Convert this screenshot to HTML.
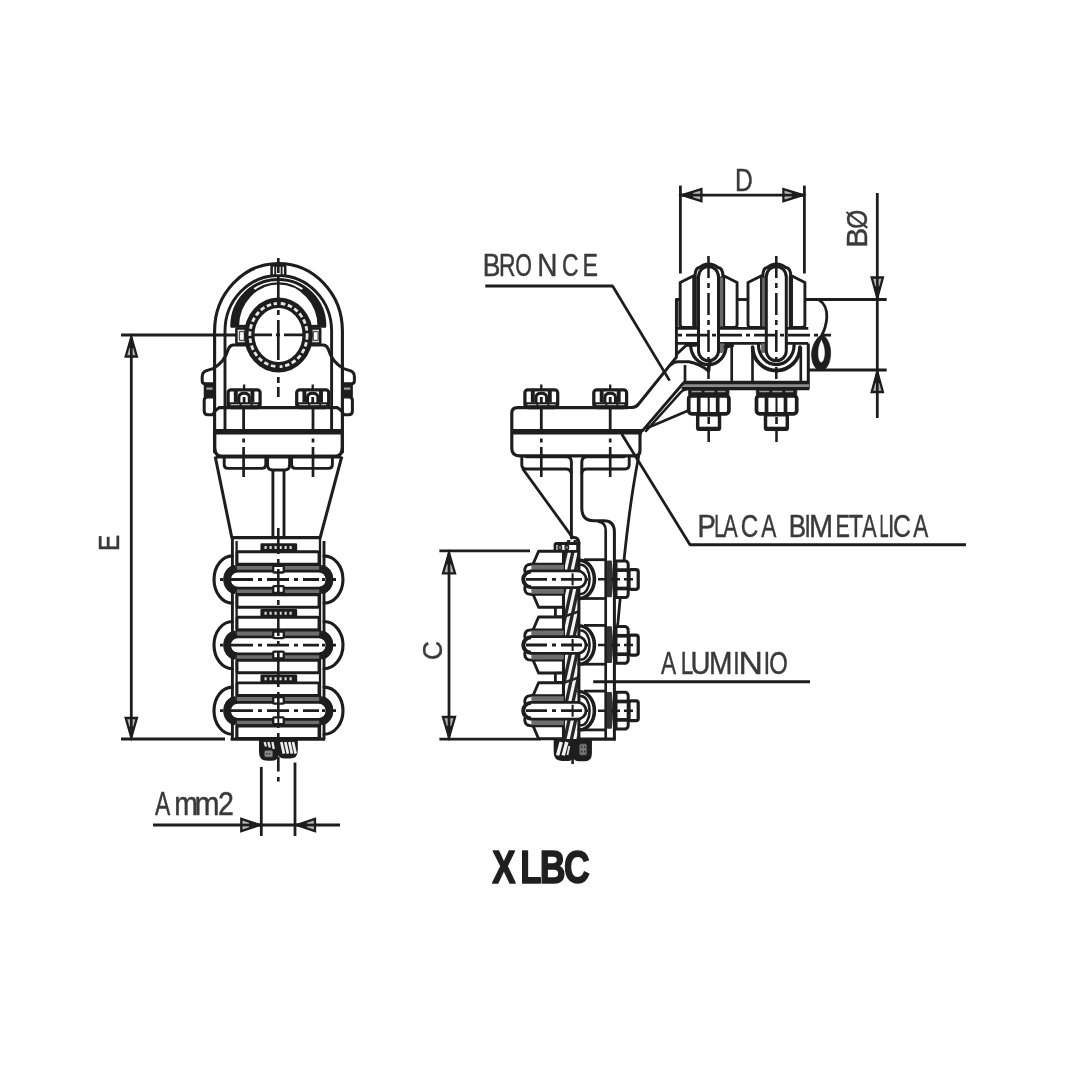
<!DOCTYPE html>
<html><head><meta charset="utf-8"><title>XLBC</title>
<style>
html,body{margin:0;padding:0;background:#fff;}
body{width:1080px;height:1080px;overflow:hidden;font-family:"Liberation Sans",sans-serif;}
svg{display:block;filter:blur(0.75px);}
svg text{font-family:"Liberation Sans",sans-serif;}
</style></head><body>
<svg width="1080" height="1080" viewBox="0 0 1080 1080">
<rect x="0" y="0" width="1080" height="1080" fill="#fff"/>
<line x1="121" y1="335" x2="247" y2="335" stroke="#1d1d1d" stroke-width="2.78" stroke-linecap="butt"/>
<line x1="131.3" y1="340" x2="131.3" y2="735" stroke="#1d1d1d" stroke-width="2.78" stroke-linecap="butt"/>
<path d="M131.3,337.1 L136.9,356.5 L125.7,356.5 Z" fill="#b4b4b4" stroke="#1d1d1d" stroke-width="2.32" stroke-linejoin="miter" stroke-linecap="round"/>
<line x1="131.3" y1="356.5" x2="131.3" y2="337.1" stroke="#1d1d1d" stroke-width="2.67" stroke-linecap="butt"/>
<path d="M131.3,337.1 L134.1,347.6 L128.5,347.6 Z" fill="#1d1d1d" stroke="#1d1d1d" stroke-width="0.93" stroke-linejoin="miter" stroke-linecap="round"/>
<path d="M131.3,737.4 L125.7,718 L136.9,718 Z" fill="#b4b4b4" stroke="#1d1d1d" stroke-width="2.32" stroke-linejoin="miter" stroke-linecap="round"/>
<line x1="131.3" y1="718" x2="131.3" y2="737.4" stroke="#1d1d1d" stroke-width="2.67" stroke-linecap="butt"/>
<path d="M131.3,737.4 L128.5,726.9 L134.1,726.9 Z" fill="#1d1d1d" stroke="#1d1d1d" stroke-width="0.93" stroke-linejoin="miter" stroke-linecap="round"/>
<line x1="121" y1="739" x2="225" y2="739" stroke="#1d1d1d" stroke-width="2.78" stroke-linecap="butt"/>
<path d="M214.6,452 L214.6,331 A63.9,67.5 0 0 1 342.4,331 L342.4,452" fill="none" stroke="#1d1d1d" stroke-width="3.13" stroke-linejoin="round" stroke-linecap="round"/>
<path d="M225,431 L225,331 A53.3,55.5 0 0 1 331.6,331 L331.6,431" fill="none" stroke="#1d1d1d" stroke-width="2.9" stroke-linejoin="round" stroke-linecap="round"/>
<rect x="271.6" y="265.5" width="13.6" height="10" rx="0.5" fill="#fff" stroke="#1d1d1d" stroke-width="2.55"/>
<line x1="275.2" y1="266" x2="275.2" y2="275.5" stroke="#1d1d1d" stroke-width="1.86" stroke-linecap="butt"/>
<line x1="281.6" y1="266" x2="281.6" y2="275.5" stroke="#1d1d1d" stroke-width="1.86" stroke-linecap="butt"/>
<path d="M231.71,325.19 A46.6,46.6 0 0 1 252.24,287.37 L255.71,290.68 A40.4,42.6 0 0 0 237.91,325.26 Z" fill="#1d1d1d" stroke="#1d1d1d" stroke-width="0.7" stroke-linejoin="round" stroke-linecap="round"/>
<path d="M324.89,325.19 A46.6,46.6 0 0 0 304.36,287.37 L300.89,290.68 A40.4,42.6 0 0 1 318.69,325.26 Z" fill="#1d1d1d" stroke="#1d1d1d" stroke-width="0.7" stroke-linejoin="round" stroke-linecap="round"/>
<path d="M231.7,326 A46.6,46.6 0 0 1 324.9,326" fill="none" stroke="#1d1d1d" stroke-width="2.9" stroke-linejoin="round" stroke-linecap="round"/>
<path d="M237.9,326 A40.4,42.6 0 0 1 318.7,326" fill="none" stroke="#1d1d1d" stroke-width="2.44" stroke-linejoin="round" stroke-linecap="round"/>
<line x1="230.8" y1="326.3" x2="246.5" y2="326.3" stroke="#1d1d1d" stroke-width="2.9" stroke-linecap="butt"/>
<line x1="310.5" y1="326.3" x2="325.8" y2="326.3" stroke="#1d1d1d" stroke-width="2.9" stroke-linecap="butt"/>
<rect x="236.4" y="328.5" width="10" height="15" rx="0.5" fill="#fff" stroke="#1d1d1d" stroke-width="2.55"/>
<rect x="310.2" y="328.5" width="10" height="15" rx="0.5" fill="#fff" stroke="#1d1d1d" stroke-width="2.55"/>
<rect x="239.4" y="331.5" width="5" height="9" rx="0.5" fill="none" stroke="#555" stroke-width="1.39"/>
<rect x="313.2" y="331.5" width="5" height="9" rx="0.5" fill="none" stroke="#555" stroke-width="1.39"/>
<path d="M246,345 L233,345 Q229.5,345.5 228,350 Q224.5,362 213,368.6 Q208.5,369.8 205.8,370.8 Q202.2,372.4 202.2,376.8 L202.2,381 Q202.2,383.8 205.6,383.8 L214,383.8" fill="none" stroke="#1d1d1d" stroke-width="3.02" stroke-linejoin="round" stroke-linecap="round"/>
<path d="M310.6,345 L323.6,345 Q327.1,345.5 328.6,350 Q332.1,362 343.6,368.6 Q348.1,369.8 350.8,370.8 Q354.4,372.4 354.4,376.8 L354.4,381 Q354.4,383.8 351,383.8 L342.6,383.8" fill="none" stroke="#1d1d1d" stroke-width="3.02" stroke-linejoin="round" stroke-linecap="round"/>
<rect x="204.6" y="384" width="9.6" height="12.6" rx="0.5" fill="#1d1d1d" stroke="#1d1d1d" stroke-width="1.74"/>
<rect x="342.4" y="384" width="9.6" height="12.6" rx="0.5" fill="#1d1d1d" stroke="#1d1d1d" stroke-width="1.74"/>
<line x1="206.4" y1="388.6" x2="212.6" y2="388.6" stroke="#9a9a9a" stroke-width="2.32" stroke-linecap="butt"/>
<line x1="344" y1="388.6" x2="350.4" y2="388.6" stroke="#9a9a9a" stroke-width="2.32" stroke-linecap="butt"/>
<path d="M214,397 L207.5,397 Q204.2,397 204.2,400.5 L204.2,411 Q204.2,414.8 208,414.8 L213,414.8 Q214.5,410 219.5,407.6" fill="none" stroke="#1d1d1d" stroke-width="3.02" stroke-linejoin="round" stroke-linecap="round"/>
<path d="M342.6,397 L349.1,397 Q352.4,397 352.4,400.5 L352.4,411 Q352.4,414.8 348.6,414.8 L343.6,414.8 Q342.1,410 337.1,407.6" fill="none" stroke="#1d1d1d" stroke-width="3.02" stroke-linejoin="round" stroke-linecap="round"/>
<ellipse cx="278.5" cy="335" rx="29.2" ry="32.2" fill="#fff" stroke="#1d1d1d" stroke-width="10.44"/>
<ellipse cx="278.5" cy="335" rx="28.6" ry="31.6" fill="none" stroke="#e6e6e6" stroke-width="2.78" stroke-dasharray="4.6 2.6"/>
<line x1="252" y1="334.9" x2="305" y2="334.9" stroke="#1d1d1d" stroke-width="2.67" stroke-linecap="butt" stroke-dasharray="20 4 4 4"/>
<line x1="278.3" y1="258" x2="278.3" y2="372" stroke="#1d1d1d" stroke-width="2.67" stroke-linecap="butt" stroke-dasharray="15 4 28 5 5 5 40 5 5 5"/>
<line x1="278.3" y1="377" x2="278.3" y2="397" stroke="#1d1d1d" stroke-width="2.67" stroke-linecap="butt" stroke-dasharray="6 4 12"/>
<path d="M219.5,407.6 L337,407.6" fill="none" stroke="#1d1d1d" stroke-width="3.25" stroke-linejoin="round" stroke-linecap="round"/>
<path d="M214.6,431 L214.6,447 Q214.6,456.4 222,456.4 L335,456.4 Q342.4,456.4 342.4,447 L342.4,431" fill="none" stroke="#1d1d1d" stroke-width="3.25" stroke-linejoin="round" stroke-linecap="round"/>
<line x1="215" y1="431.8" x2="342" y2="431.8" stroke="#1d1d1d" stroke-width="5.57" stroke-linecap="butt"/>
<line x1="216" y1="456.6" x2="341" y2="456.6" stroke="#1d1d1d" stroke-width="3.71" stroke-linecap="butt"/>
<rect x="228.1" y="389.8" width="32" height="17.7" rx="3" fill="#fff" stroke="#1d1d1d" stroke-width="3.25"/>
<line x1="235.8" y1="390" x2="235.8" y2="402.5" stroke="#1d1d1d" stroke-width="3.94" stroke-linecap="butt"/>
<line x1="252.4" y1="390" x2="252.4" y2="402.5" stroke="#1d1d1d" stroke-width="3.94" stroke-linecap="butt"/>
<path d="M238.9,402.5 L238.9,397.5 Q238.9,393.2 244.1,393.2 Q249.3,393.2 249.3,397.5 L249.3,402.5" fill="none" stroke="#1d1d1d" stroke-width="3.02" stroke-linejoin="round" stroke-linecap="round"/>
<line x1="244.1" y1="397" x2="244.1" y2="403" stroke="#1d1d1d" stroke-width="2.78" stroke-linecap="butt"/>
<rect x="228.6" y="402.6" width="31" height="4.6" rx="0" fill="#1d1d1d" stroke="#1d1d1d" stroke-width="0.58"/>
<line x1="230.6" y1="404.6" x2="257.6" y2="404.6" stroke="#aaa" stroke-width="1.28" stroke-linecap="butt" stroke-dasharray="9 2"/>
<line x1="244.1" y1="384.5" x2="244.1" y2="390" stroke="#1d1d1d" stroke-width="2.32" stroke-linecap="butt"/>
<rect x="296.7" y="389.8" width="32" height="17.7" rx="3" fill="#fff" stroke="#1d1d1d" stroke-width="3.25"/>
<line x1="304.4" y1="390" x2="304.4" y2="402.5" stroke="#1d1d1d" stroke-width="3.94" stroke-linecap="butt"/>
<line x1="321" y1="390" x2="321" y2="402.5" stroke="#1d1d1d" stroke-width="3.94" stroke-linecap="butt"/>
<path d="M307.5,402.5 L307.5,397.5 Q307.5,393.2 312.7,393.2 Q317.9,393.2 317.9,397.5 L317.9,402.5" fill="none" stroke="#1d1d1d" stroke-width="3.02" stroke-linejoin="round" stroke-linecap="round"/>
<line x1="312.7" y1="397" x2="312.7" y2="403" stroke="#1d1d1d" stroke-width="2.78" stroke-linecap="butt"/>
<rect x="297.2" y="402.6" width="31" height="4.6" rx="0" fill="#1d1d1d" stroke="#1d1d1d" stroke-width="0.58"/>
<line x1="299.2" y1="404.6" x2="326.2" y2="404.6" stroke="#aaa" stroke-width="1.28" stroke-linecap="butt" stroke-dasharray="9 2"/>
<line x1="312.7" y1="384.5" x2="312.7" y2="390" stroke="#1d1d1d" stroke-width="2.32" stroke-linecap="butt"/>
<line x1="243.6" y1="408" x2="243.6" y2="431" stroke="#1d1d1d" stroke-width="2.78" stroke-linecap="butt"/>
<line x1="243.6" y1="438.5" x2="243.6" y2="478" stroke="#1d1d1d" stroke-width="2.67" stroke-linecap="butt" stroke-dasharray="4 4.5 30"/>
<line x1="313" y1="408" x2="313" y2="431" stroke="#1d1d1d" stroke-width="2.78" stroke-linecap="butt"/>
<line x1="313" y1="438.5" x2="313" y2="478" stroke="#1d1d1d" stroke-width="2.67" stroke-linecap="butt" stroke-dasharray="4 4.5 30"/>
<path d="M224.2,457 L224.2,464.5 Q224.2,468.4 228,468.4 L262,468.4 Q265.8,468.4 265.8,464.5 L265.8,457" fill="none" stroke="#1d1d1d" stroke-width="2.9" stroke-linejoin="round" stroke-linecap="round"/>
<path d="M291.6,457 L291.6,464.5 Q291.6,468.4 295.4,468.4 L328.6,468.4 Q332.4,468.4 332.4,464.5 L332.4,457" fill="none" stroke="#1d1d1d" stroke-width="2.9" stroke-linejoin="round" stroke-linecap="round"/>
<path d="M267.6,457 L267.6,465 Q267.6,470 272.6,470 L284.6,470 Q289.6,470 289.6,465 L289.6,457" fill="none" stroke="#1d1d1d" stroke-width="2.9" stroke-linejoin="round" stroke-linecap="round"/>
<line x1="272.9" y1="470" x2="272.9" y2="537" stroke="#1d1d1d" stroke-width="2.9" stroke-linecap="butt"/>
<line x1="284" y1="470" x2="284" y2="537" stroke="#1d1d1d" stroke-width="2.9" stroke-linecap="butt"/>
<line x1="215.2" y1="456.5" x2="231.8" y2="537.5" stroke="#1d1d1d" stroke-width="3.02" stroke-linecap="butt"/>
<line x1="341.8" y1="456.5" x2="320.2" y2="537.5" stroke="#1d1d1d" stroke-width="3.02" stroke-linecap="butt"/>
<line x1="230.6" y1="537.6" x2="321.4" y2="537.6" stroke="#1d1d1d" stroke-width="3.25" stroke-linecap="butt"/>
<line x1="232.4" y1="537.6" x2="232.4" y2="739" stroke="#1d1d1d" stroke-width="2.9" stroke-linecap="butt"/>
<line x1="236.6" y1="541" x2="236.6" y2="739" stroke="#1d1d1d" stroke-width="2.32" stroke-linecap="butt"/>
<line x1="320" y1="537.6" x2="320" y2="739" stroke="#1d1d1d" stroke-width="2.32" stroke-linecap="butt"/>
<line x1="324" y1="541" x2="324" y2="739" stroke="#1d1d1d" stroke-width="2.9" stroke-linecap="butt"/>
<line x1="230.6" y1="739" x2="325.2" y2="739" stroke="#1d1d1d" stroke-width="3.25" stroke-linecap="butt"/>
<path d="M232.4,555.9 A18.4,23.6 0 0 0 232.4,603.1" fill="none" stroke="#1d1d1d" stroke-width="3.13" stroke-linejoin="round" stroke-linecap="round"/>
<path d="M324,555.9 A19,23.6 0 0 1 324,603.1" fill="none" stroke="#1d1d1d" stroke-width="3.13" stroke-linejoin="round" stroke-linecap="round"/>
<rect x="261" y="543.9" width="35.6" height="7.4" rx="0.8" fill="#1d1d1d" stroke="#1d1d1d" stroke-width="1.16"/>
<line x1="264.5" y1="547.6" x2="294" y2="547.6" stroke="#d8d8d8" stroke-width="3.02" stroke-linecap="butt" stroke-dasharray="2.2 2.8"/>
<rect x="237" y="551.7" width="82" height="12.6" rx="1.2" fill="#fff" stroke="#1d1d1d" stroke-width="2.9"/>
<rect x="237" y="565.1" width="82" height="5" rx="0" fill="#6e6e6e" stroke="#6e6e6e" stroke-width="0.46"/>
<rect x="237" y="588.9" width="82" height="5" rx="0" fill="#6e6e6e" stroke="#6e6e6e" stroke-width="0.46"/>
<line x1="236" y1="594.5" x2="320.6" y2="594.5" stroke="#1d1d1d" stroke-width="2.78" stroke-linecap="butt"/>
<line x1="236" y1="564.5" x2="320.6" y2="564.5" stroke="#1d1d1d" stroke-width="2.78" stroke-linecap="butt"/>
<rect x="237" y="594.8" width="82" height="12.4" rx="1.2" fill="#fff" stroke="#1d1d1d" stroke-width="2.9"/>
<rect x="229.5" y="571.2" width="97.6" height="17" rx="8.3" fill="#fff" stroke="#1d1d1d" stroke-width="2.67"/>
<path d="M235,565.5 A11.4,14 0 0 0 235,593.5 L236.6,587.2 A6.2,7.7 0 0 1 236.6,571.8 Z" fill="#1d1d1d" stroke="#1d1d1d" stroke-width="0.93" stroke-linejoin="round" stroke-linecap="round"/>
<path d="M321.6,565.5 A11.4,14 0 0 1 321.6,593.5 L320,587.2 A6.2,7.7 0 0 0 320,571.8 Z" fill="#1d1d1d" stroke="#1d1d1d" stroke-width="0.93" stroke-linejoin="round" stroke-linecap="round"/>
<rect x="273.2" y="565.9" width="10.6" height="6.6" rx="1" fill="#fff" stroke="#1d1d1d" stroke-width="2.32"/>
<rect x="273.2" y="586.1" width="10.6" height="6.8" rx="1" fill="#fff" stroke="#1d1d1d" stroke-width="2.32"/>
<line x1="278.3" y1="586.5" x2="278.3" y2="592.5" stroke="#1d1d1d" stroke-width="1.86" stroke-linecap="butt"/>
<line x1="220" y1="579.5" x2="337" y2="579.5" stroke="#1d1d1d" stroke-width="2.78" stroke-linecap="butt" stroke-dasharray="3 8 22 5 4 5 22 5 4 5 16 3 3"/>
<path d="M232.4,621.5 A18.4,23.6 0 0 0 232.4,668.7" fill="none" stroke="#1d1d1d" stroke-width="3.13" stroke-linejoin="round" stroke-linecap="round"/>
<path d="M324,621.5 A19,23.6 0 0 1 324,668.7" fill="none" stroke="#1d1d1d" stroke-width="3.13" stroke-linejoin="round" stroke-linecap="round"/>
<rect x="261" y="609.5" width="35.6" height="7.4" rx="0.8" fill="#1d1d1d" stroke="#1d1d1d" stroke-width="1.16"/>
<line x1="264.5" y1="613.2" x2="294" y2="613.2" stroke="#d8d8d8" stroke-width="3.02" stroke-linecap="butt" stroke-dasharray="2.2 2.8"/>
<rect x="237" y="617.3" width="82" height="12.6" rx="1.2" fill="#fff" stroke="#1d1d1d" stroke-width="2.9"/>
<rect x="237" y="630.7" width="82" height="5" rx="0" fill="#6e6e6e" stroke="#6e6e6e" stroke-width="0.46"/>
<rect x="237" y="654.5" width="82" height="5" rx="0" fill="#6e6e6e" stroke="#6e6e6e" stroke-width="0.46"/>
<line x1="236" y1="660.1" x2="320.6" y2="660.1" stroke="#1d1d1d" stroke-width="2.78" stroke-linecap="butt"/>
<line x1="236" y1="630.1" x2="320.6" y2="630.1" stroke="#1d1d1d" stroke-width="2.78" stroke-linecap="butt"/>
<rect x="237" y="660.4" width="82" height="12.4" rx="1.2" fill="#fff" stroke="#1d1d1d" stroke-width="2.9"/>
<rect x="229.5" y="636.8" width="97.6" height="17" rx="8.3" fill="#fff" stroke="#1d1d1d" stroke-width="2.67"/>
<path d="M235,631.1 A11.4,14 0 0 0 235,659.1 L236.6,652.8 A6.2,7.7 0 0 1 236.6,637.4 Z" fill="#1d1d1d" stroke="#1d1d1d" stroke-width="0.93" stroke-linejoin="round" stroke-linecap="round"/>
<path d="M321.6,631.1 A11.4,14 0 0 1 321.6,659.1 L320,652.8 A6.2,7.7 0 0 0 320,637.4 Z" fill="#1d1d1d" stroke="#1d1d1d" stroke-width="0.93" stroke-linejoin="round" stroke-linecap="round"/>
<rect x="273.2" y="631.5" width="10.6" height="6.6" rx="1" fill="#fff" stroke="#1d1d1d" stroke-width="2.32"/>
<rect x="273.2" y="651.7" width="10.6" height="6.8" rx="1" fill="#fff" stroke="#1d1d1d" stroke-width="2.32"/>
<line x1="278.3" y1="652.1" x2="278.3" y2="658.1" stroke="#1d1d1d" stroke-width="1.86" stroke-linecap="butt"/>
<line x1="220" y1="645.1" x2="337" y2="645.1" stroke="#1d1d1d" stroke-width="2.78" stroke-linecap="butt" stroke-dasharray="3 8 22 5 4 5 22 5 4 5 16 3 3"/>
<path d="M232.4,687.1 A18.4,23.6 0 0 0 232.4,734.3" fill="none" stroke="#1d1d1d" stroke-width="3.13" stroke-linejoin="round" stroke-linecap="round"/>
<path d="M324,687.1 A19,23.6 0 0 1 324,734.3" fill="none" stroke="#1d1d1d" stroke-width="3.13" stroke-linejoin="round" stroke-linecap="round"/>
<rect x="261" y="675.1" width="35.6" height="7.4" rx="0.8" fill="#1d1d1d" stroke="#1d1d1d" stroke-width="1.16"/>
<line x1="264.5" y1="678.8" x2="294" y2="678.8" stroke="#d8d8d8" stroke-width="3.02" stroke-linecap="butt" stroke-dasharray="2.2 2.8"/>
<rect x="237" y="682.9" width="82" height="12.6" rx="1.2" fill="#fff" stroke="#1d1d1d" stroke-width="2.9"/>
<rect x="237" y="696.3" width="82" height="5" rx="0" fill="#6e6e6e" stroke="#6e6e6e" stroke-width="0.46"/>
<rect x="237" y="720.1" width="82" height="5" rx="0" fill="#6e6e6e" stroke="#6e6e6e" stroke-width="0.46"/>
<line x1="236" y1="725.7" x2="320.6" y2="725.7" stroke="#1d1d1d" stroke-width="2.78" stroke-linecap="butt"/>
<line x1="236" y1="695.7" x2="320.6" y2="695.7" stroke="#1d1d1d" stroke-width="2.78" stroke-linecap="butt"/>
<rect x="237" y="726" width="82" height="12.4" rx="1.2" fill="#fff" stroke="#1d1d1d" stroke-width="2.9"/>
<rect x="229.5" y="702.4" width="97.6" height="17" rx="8.3" fill="#fff" stroke="#1d1d1d" stroke-width="2.67"/>
<path d="M235,696.7 A11.4,14 0 0 0 235,724.7 L236.6,718.4 A6.2,7.7 0 0 1 236.6,703 Z" fill="#1d1d1d" stroke="#1d1d1d" stroke-width="0.93" stroke-linejoin="round" stroke-linecap="round"/>
<path d="M321.6,696.7 A11.4,14 0 0 1 321.6,724.7 L320,718.4 A6.2,7.7 0 0 0 320,703 Z" fill="#1d1d1d" stroke="#1d1d1d" stroke-width="0.93" stroke-linejoin="round" stroke-linecap="round"/>
<rect x="273.2" y="697.1" width="10.6" height="6.6" rx="1" fill="#fff" stroke="#1d1d1d" stroke-width="2.32"/>
<rect x="273.2" y="717.3" width="10.6" height="6.8" rx="1" fill="#fff" stroke="#1d1d1d" stroke-width="2.32"/>
<line x1="278.3" y1="717.7" x2="278.3" y2="723.7" stroke="#1d1d1d" stroke-width="1.86" stroke-linecap="butt"/>
<line x1="220" y1="710.7" x2="337" y2="710.7" stroke="#1d1d1d" stroke-width="2.78" stroke-linecap="butt" stroke-dasharray="3 8 22 5 4 5 22 5 4 5 16 3 3"/>
<line x1="278.3" y1="528" x2="278.3" y2="739" stroke="#1d1d1d" stroke-width="2.55" stroke-linecap="butt" stroke-dasharray="26 5 5 5"/>
<path d="M259.8,739.5 L259.8,752 Q259.8,760 267.5,760 L271.5,760 Q277.4,760 277.9,754.6 L279,754.6 Q279.8,757.8 284.5,757.8 L290,757.8 Q297,757.8 297,750.5 L297,739.5 Z" fill="#1d1d1d" stroke="#1d1d1d" stroke-width="1.62" stroke-linejoin="round" stroke-linecap="round"/>
<line x1="281.3" y1="742" x2="283.9" y2="753.6" stroke="#efefef" stroke-width="2.67" stroke-linecap="butt"/>
<line x1="285.3" y1="742" x2="287.9" y2="753.6" stroke="#efefef" stroke-width="2.67" stroke-linecap="butt"/>
<line x1="289.3" y1="742" x2="291.9" y2="753.6" stroke="#efefef" stroke-width="2.67" stroke-linecap="butt"/>
<line x1="293" y1="742" x2="295.6" y2="753.6" stroke="#efefef" stroke-width="2.67" stroke-linecap="butt"/>
<line x1="264.6" y1="742" x2="266" y2="746.5" stroke="#e6e6e6" stroke-width="2.32" stroke-linecap="butt"/>
<line x1="268.4" y1="742" x2="269.8" y2="747.5" stroke="#e6e6e6" stroke-width="2.32" stroke-linecap="butt"/>
<line x1="272.4" y1="742" x2="273.8" y2="749" stroke="#e6e6e6" stroke-width="2.32" stroke-linecap="butt"/>
<rect x="264.6" y="750.6" width="8" height="6.4" rx="1.5" fill="#8a8a8a" stroke="#555" stroke-width="0.7"/>
<line x1="266" y1="753.8" x2="271.6" y2="753.8" stroke="#333" stroke-width="1.62" stroke-linecap="butt" stroke-dasharray="1.4 1.4"/>
<line x1="278.3" y1="757" x2="278.3" y2="771.5" stroke="#1d1d1d" stroke-width="2.67" stroke-linecap="butt"/>
<line x1="278.3" y1="777" x2="278.3" y2="781.5" stroke="#1d1d1d" stroke-width="2.67" stroke-linecap="butt"/>
<line x1="261.3" y1="767" x2="261.3" y2="836" stroke="#1d1d1d" stroke-width="2.78" stroke-linecap="butt"/>
<line x1="295" y1="762.5" x2="295" y2="836" stroke="#1d1d1d" stroke-width="2.78" stroke-linecap="butt"/>
<line x1="153" y1="825" x2="340" y2="825" stroke="#1d1d1d" stroke-width="2.9" stroke-linecap="butt"/>
<path d="M259.7,825 L241.3,831.2 L241.3,818.8 Z" fill="#b4b4b4" stroke="#1d1d1d" stroke-width="2.32" stroke-linejoin="miter" stroke-linecap="round"/>
<line x1="241.3" y1="825" x2="259.7" y2="825" stroke="#1d1d1d" stroke-width="2.67" stroke-linecap="butt"/>
<path d="M259.7,825 L249.7,828.1 L249.7,821.9 Z" fill="#1d1d1d" stroke="#1d1d1d" stroke-width="0.93" stroke-linejoin="miter" stroke-linecap="round"/>
<path d="M296.6,825 L315,818.8 L315,831.2 Z" fill="#b4b4b4" stroke="#1d1d1d" stroke-width="2.32" stroke-linejoin="miter" stroke-linecap="round"/>
<line x1="315" y1="825" x2="296.6" y2="825" stroke="#1d1d1d" stroke-width="2.67" stroke-linecap="butt"/>
<path d="M296.6,825 L306.6,821.9 L306.6,828.1 Z" fill="#1d1d1d" stroke="#1d1d1d" stroke-width="0.93" stroke-linejoin="miter" stroke-linecap="round"/>
<line x1="680.4" y1="185.6" x2="680.4" y2="273.5" stroke="#1d1d1d" stroke-width="2.78" stroke-linecap="butt"/>
<line x1="804.4" y1="185.6" x2="804.4" y2="273.5" stroke="#1d1d1d" stroke-width="2.78" stroke-linecap="butt"/>
<line x1="680.4" y1="195.1" x2="804.4" y2="195.1" stroke="#1d1d1d" stroke-width="2.78" stroke-linecap="butt"/>
<path d="M682,195.1 L701.4,189.1 L701.4,201.1 Z" fill="#b4b4b4" stroke="#1d1d1d" stroke-width="2.32" stroke-linejoin="miter" stroke-linecap="round"/>
<line x1="701.4" y1="195.1" x2="682" y2="195.1" stroke="#1d1d1d" stroke-width="2.67" stroke-linecap="butt"/>
<path d="M682,195.1 L692.5,192.1 L692.5,198.1 Z" fill="#1d1d1d" stroke="#1d1d1d" stroke-width="0.93" stroke-linejoin="miter" stroke-linecap="round"/>
<path d="M802.8,195.1 L783.4,201.1 L783.4,189.1 Z" fill="#b4b4b4" stroke="#1d1d1d" stroke-width="2.32" stroke-linejoin="miter" stroke-linecap="round"/>
<line x1="783.4" y1="195.1" x2="802.8" y2="195.1" stroke="#1d1d1d" stroke-width="2.67" stroke-linecap="butt"/>
<path d="M802.8,195.1 L792.3,198.1 L792.3,192.1 Z" fill="#1d1d1d" stroke="#1d1d1d" stroke-width="0.93" stroke-linejoin="miter" stroke-linecap="round"/>
<line x1="877.3" y1="193" x2="877.3" y2="418" stroke="#1d1d1d" stroke-width="2.78" stroke-linecap="butt"/>
<path d="M877.3,297.9 L871.7,277.5 L882.9,277.5 Z" fill="#b4b4b4" stroke="#1d1d1d" stroke-width="2.32" stroke-linejoin="miter" stroke-linecap="round"/>
<line x1="877.3" y1="277.5" x2="877.3" y2="297.9" stroke="#1d1d1d" stroke-width="2.67" stroke-linecap="butt"/>
<path d="M877.3,297.9 L874.5,286.9 L880.1,286.9 Z" fill="#1d1d1d" stroke="#1d1d1d" stroke-width="0.93" stroke-linejoin="miter" stroke-linecap="round"/>
<path d="M877.3,371.6 L882.9,392 L871.7,392 Z" fill="#b4b4b4" stroke="#1d1d1d" stroke-width="2.32" stroke-linejoin="miter" stroke-linecap="round"/>
<line x1="877.3" y1="392" x2="877.3" y2="371.6" stroke="#1d1d1d" stroke-width="2.67" stroke-linecap="butt"/>
<path d="M877.3,371.6 L880.1,382.6 L874.5,382.6 Z" fill="#1d1d1d" stroke="#1d1d1d" stroke-width="0.93" stroke-linejoin="miter" stroke-linecap="round"/>
<line x1="805.5" y1="299.5" x2="886.7" y2="299.5" stroke="#1d1d1d" stroke-width="2.78" stroke-linecap="butt"/>
<line x1="809" y1="370" x2="886.7" y2="370" stroke="#1d1d1d" stroke-width="2.78" stroke-linecap="butt"/>
<line x1="485.3" y1="286" x2="613.2" y2="286" stroke="#1d1d1d" stroke-width="3.02" stroke-linecap="butt"/>
<line x1="612.6" y1="286" x2="669.6" y2="380.6" stroke="#1d1d1d" stroke-width="2.78" stroke-linecap="butt"/>
<line x1="621.7" y1="434" x2="690.3" y2="545.2" stroke="#1d1d1d" stroke-width="2.78" stroke-linecap="butt"/>
<line x1="689.7" y1="544.7" x2="966" y2="544.7" stroke="#1d1d1d" stroke-width="3.02" stroke-linecap="butt"/>
<line x1="593.2" y1="681.8" x2="810" y2="681.8" stroke="#1d1d1d" stroke-width="3.02" stroke-linecap="butt"/>
<line x1="439.4" y1="550.9" x2="530" y2="550.9" stroke="#1d1d1d" stroke-width="2.78" stroke-linecap="butt"/>
<line x1="449" y1="556" x2="449" y2="735" stroke="#1d1d1d" stroke-width="2.78" stroke-linecap="butt"/>
<line x1="439.4" y1="739.2" x2="540.5" y2="739.2" stroke="#1d1d1d" stroke-width="2.78" stroke-linecap="butt"/>
<path d="M449,552.9 L455,573.3 L443,573.3 Z" fill="#b4b4b4" stroke="#1d1d1d" stroke-width="2.32" stroke-linejoin="miter" stroke-linecap="round"/>
<line x1="449" y1="573.3" x2="449" y2="552.9" stroke="#1d1d1d" stroke-width="2.67" stroke-linecap="butt"/>
<path d="M449,552.9 L452,563.9 L446,563.9 Z" fill="#1d1d1d" stroke="#1d1d1d" stroke-width="0.93" stroke-linejoin="miter" stroke-linecap="round"/>
<path d="M449,737.4 L443,717 L455,717 Z" fill="#b4b4b4" stroke="#1d1d1d" stroke-width="2.32" stroke-linejoin="miter" stroke-linecap="round"/>
<line x1="449" y1="717" x2="449" y2="737.4" stroke="#1d1d1d" stroke-width="2.67" stroke-linecap="butt"/>
<path d="M449,737.4 L446,726.4 L452,726.4 Z" fill="#1d1d1d" stroke="#1d1d1d" stroke-width="0.93" stroke-linejoin="miter" stroke-linecap="round"/>
<rect x="676.6" y="299.6" width="3.2" height="28" rx="0" fill="#8a8a8a" stroke="#8a8a8a" stroke-width="0.46"/>
<path d="M680,299.5 L676.4,299.5 L676.4,357" fill="none" stroke="#1d1d1d" stroke-width="2.9" stroke-linejoin="round" stroke-linecap="round"/>
<line x1="676.7" y1="328.4" x2="808.3" y2="328.4" stroke="#1d1d1d" stroke-width="2.78" stroke-linecap="butt"/>
<line x1="676.7" y1="343.3" x2="808.3" y2="343.3" stroke="#1d1d1d" stroke-width="2.78" stroke-linecap="butt"/>
<line x1="736.7" y1="299.5" x2="748.3" y2="299.5" stroke="#1d1d1d" stroke-width="2.9" stroke-linecap="butt"/>
<line x1="805.8" y1="299.5" x2="820" y2="299.5" stroke="#1d1d1d" stroke-width="2.9" stroke-linecap="butt"/>
<line x1="808.3" y1="343.5" x2="808.3" y2="388.3" stroke="#1d1d1d" stroke-width="3.02" stroke-linecap="butt"/>
<rect x="683" y="382.4" width="126" height="6.2" rx="0" fill="#8c8c8c" stroke="#8c8c8c" stroke-width="0.46"/>
<line x1="683.3" y1="382.5" x2="809.4" y2="382.5" stroke="#1d1d1d" stroke-width="3.71" stroke-linecap="butt"/>
<line x1="681.7" y1="388.5" x2="809.4" y2="388.5" stroke="#1d1d1d" stroke-width="3.25" stroke-linecap="butt"/>
<line x1="685" y1="365" x2="685" y2="381.5" stroke="#1d1d1d" stroke-width="2.67" stroke-linecap="butt"/>
<line x1="731.7" y1="347" x2="731.7" y2="381.5" stroke="#1d1d1d" stroke-width="2.67" stroke-linecap="butt"/>
<line x1="752.5" y1="347" x2="752.5" y2="381.5" stroke="#1d1d1d" stroke-width="2.67" stroke-linecap="butt"/>
<line x1="800.8" y1="347" x2="800.8" y2="381.5" stroke="#1d1d1d" stroke-width="2.67" stroke-linecap="butt"/>
<path d="M732.2,345.6 A23.7,25 0 0 0 708.5,370.6" fill="none" stroke="#1d1d1d" stroke-width="3.71" stroke-linejoin="round" stroke-linecap="round"/>
<rect x="718.7" y="343.5" width="5" height="9" rx="0" fill="#6a6a6a" stroke="#555" stroke-width="0.58"/>
<path d="M690.7,345 A17.8,19.6 0 0 0 726.3,345" fill="none" stroke="#1d1d1d" stroke-width="3.25" stroke-linejoin="round" stroke-linecap="round"/>
<path d="M680.2,282.5 L693.7,275.8 L693.7,327.5 L683.2,327.5 Q680.2,327.5 680.2,324.5 Z" fill="#fff" stroke="#1d1d1d" stroke-width="2.9" stroke-linejoin="round" stroke-linecap="round"/>
<path d="M737.1,282.5 L723.7,275.8 L723.7,327.5 L734.1,327.5 Q737.1,327.5 737.1,324.5 Z" fill="#fff" stroke="#1d1d1d" stroke-width="2.9" stroke-linejoin="round" stroke-linecap="round"/>
<path d="M695.1,327 L695.1,276 Q695.1,268 699.5,267.5 Q703.5,264 708.5,264 Q713.9,264 717.9,267.5 Q722.9,268 722.9,276 L722.9,327" fill="#fff" stroke="#1d1d1d" stroke-width="3.02" stroke-linejoin="round" stroke-linecap="round"/>
<rect x="718.7" y="277" width="5" height="50" rx="0" fill="#6a6a6a" stroke="#1d1d1d" stroke-width="0.93"/>
<line x1="694.9" y1="276" x2="694.9" y2="327" stroke="#1d1d1d" stroke-width="3.48" stroke-linecap="butt"/>
<path d="M698.5,350.8 L698.5,277 A10,10.5 0 0 1 718.5,277 L718.5,350.8 A10,10 0 0 1 698.5,350.8 Z" fill="#fff" stroke="#1d1d1d" stroke-width="3.02" stroke-linejoin="round" stroke-linecap="round"/>
<line x1="708.5" y1="256" x2="708.5" y2="379" stroke="#1d1d1d" stroke-width="2.55" stroke-linecap="butt" stroke-dasharray="22 5 5 5"/>
<rect x="688.5" y="389.3" width="40.5" height="5.8" rx="1" fill="#1d1d1d" stroke="#1d1d1d" stroke-width="0.7"/>
<line x1="691.5" y1="391.4" x2="725.5" y2="391.4" stroke="#999" stroke-width="1.51" stroke-linecap="butt" stroke-dasharray="10 3"/>
<rect x="688.7" y="395.8" width="40.2" height="18" rx="3" fill="#fff" stroke="#1d1d1d" stroke-width="3.71"/>
<line x1="698.7" y1="396" x2="698.7" y2="413" stroke="#1d1d1d" stroke-width="3.71" stroke-linecap="butt"/>
<line x1="717.7" y1="396" x2="717.7" y2="413" stroke="#1d1d1d" stroke-width="3.71" stroke-linecap="butt"/>
<line x1="708.7" y1="396" x2="708.7" y2="413" stroke="#1d1d1d" stroke-width="2.09" stroke-linecap="butt"/>
<rect x="697.7" y="414.8" width="21.8" height="14.4" rx="1.5" fill="#fff" stroke="#1d1d1d" stroke-width="3.48"/>
<line x1="697.7" y1="428.8" x2="719.5" y2="428.8" stroke="#1d1d1d" stroke-width="4.18" stroke-linecap="butt"/>
<line x1="708.7" y1="417" x2="708.7" y2="442" stroke="#1d1d1d" stroke-width="2.55" stroke-linecap="butt" stroke-dasharray="7 5 40"/>
<path d="M752.6,347 A23.7,23.6 0 0 0 800,347" fill="none" stroke="#1d1d1d" stroke-width="3.71" stroke-linejoin="round" stroke-linecap="round"/>
<rect x="761.5" y="343.5" width="5" height="9" rx="0" fill="#6a6a6a" stroke="#555" stroke-width="0.58"/>
<path d="M758.5,345 A17.8,19.6 0 0 0 794.1,345" fill="none" stroke="#1d1d1d" stroke-width="3.25" stroke-linejoin="round" stroke-linecap="round"/>
<path d="M748,282.5 L761.5,275.8 L761.5,327.5 L751,327.5 Q748,327.5 748,324.5 Z" fill="#fff" stroke="#1d1d1d" stroke-width="2.9" stroke-linejoin="round" stroke-linecap="round"/>
<path d="M804.9,282.5 L791.5,275.8 L791.5,327.5 L801.9,327.5 Q804.9,327.5 804.9,324.5 Z" fill="#fff" stroke="#1d1d1d" stroke-width="2.9" stroke-linejoin="round" stroke-linecap="round"/>
<path d="M762.9,327 L762.9,276 Q762.9,268 767.3,267.5 Q771.3,264 776.3,264 Q781.7,264 785.7,267.5 Q790.7,268 790.7,276 L790.7,327" fill="#fff" stroke="#1d1d1d" stroke-width="3.02" stroke-linejoin="round" stroke-linecap="round"/>
<rect x="761.7" y="277" width="5" height="50" rx="0" fill="#6a6a6a" stroke="#1d1d1d" stroke-width="0.93"/>
<line x1="790.5" y1="276" x2="790.5" y2="327" stroke="#1d1d1d" stroke-width="3.48" stroke-linecap="butt"/>
<path d="M766.3,350.8 L766.3,277 A10,10.5 0 0 1 786.3,277 L786.3,350.8 A10,10 0 0 1 766.3,350.8 Z" fill="#fff" stroke="#1d1d1d" stroke-width="3.02" stroke-linejoin="round" stroke-linecap="round"/>
<line x1="776.3" y1="256" x2="776.3" y2="379" stroke="#1d1d1d" stroke-width="2.55" stroke-linecap="butt" stroke-dasharray="22 5 5 5"/>
<rect x="756.3" y="389.3" width="40.5" height="5.8" rx="1" fill="#1d1d1d" stroke="#1d1d1d" stroke-width="0.7"/>
<line x1="759.3" y1="391.4" x2="793.3" y2="391.4" stroke="#999" stroke-width="1.51" stroke-linecap="butt" stroke-dasharray="10 3"/>
<rect x="756.5" y="395.8" width="40.2" height="18" rx="3" fill="#fff" stroke="#1d1d1d" stroke-width="3.71"/>
<line x1="766.5" y1="396" x2="766.5" y2="413" stroke="#1d1d1d" stroke-width="3.71" stroke-linecap="butt"/>
<line x1="785.5" y1="396" x2="785.5" y2="413" stroke="#1d1d1d" stroke-width="3.71" stroke-linecap="butt"/>
<line x1="776.5" y1="396" x2="776.5" y2="413" stroke="#1d1d1d" stroke-width="2.09" stroke-linecap="butt"/>
<rect x="765.5" y="414.8" width="21.8" height="14.4" rx="1.5" fill="#fff" stroke="#1d1d1d" stroke-width="3.48"/>
<line x1="765.5" y1="428.8" x2="787.3" y2="428.8" stroke="#1d1d1d" stroke-width="4.18" stroke-linecap="butt"/>
<line x1="776.5" y1="417" x2="776.5" y2="442" stroke="#1d1d1d" stroke-width="2.55" stroke-linecap="butt" stroke-dasharray="7 5 40"/>
<line x1="678" y1="335.2" x2="831" y2="335.2" stroke="#1d1d1d" stroke-width="2.67" stroke-linecap="butt" stroke-dasharray="4 4 22 4"/>
<path d="M676.4,354.5 L686.3,345.2 L696,345.2" fill="none" stroke="#1d1d1d" stroke-width="2.9" stroke-linejoin="round" stroke-linecap="round"/>
<path d="M671,364.6 Q674,361.8 678,361.8 L689,361.8 Q699,363.6 708.5,370.8" fill="none" stroke="#1d1d1d" stroke-width="3.02" stroke-linejoin="round" stroke-linecap="round"/>
<path d="M818.5,299.6 Q827.6,305 826.8,318 Q825.8,328 822,334.6" fill="none" stroke="#1d1d1d" stroke-width="2.78" stroke-linejoin="round" stroke-linecap="round"/>
<path d="M822,334 C828,338 831,346 830.6,354 C830.2,364 826,370.6 821,370.6 C816,370.6 811.4,364 811.6,354 C811.8,346 816,338 822,334 Z" fill="#1d1d1d" stroke="#1d1d1d" stroke-width="0.7" stroke-linejoin="round" stroke-linecap="round"/>
<path d="M821.4,340.4 C824,345 824.7,350 824.5,354 C824.1,359 822.7,362.2 821.3,362.2 C819.9,362.2 818.5,359 818.4,354 C818.3,349 819,344.6 821.4,340.4 Z" fill="#fff" stroke="#fff" stroke-width="0.46" stroke-linejoin="round" stroke-linecap="round"/>
<path d="M627,407.6 L632,407.6 Q636.2,407.2 638.6,404 L676.2,357.4" fill="none" stroke="#1d1d1d" stroke-width="3.02" stroke-linejoin="round" stroke-linecap="round"/>
<path d="M640,432 L642.6,430.6 L683.2,383.2" fill="none" stroke="#1d1d1d" stroke-width="2.9" stroke-linejoin="round" stroke-linecap="round"/>
<path d="M646,431 L680.6,392.4 Q682.4,390.2 686,389.6" fill="none" stroke="#1d1d1d" stroke-width="2.55" stroke-linejoin="round" stroke-linecap="round"/>
<line x1="646" y1="428.4" x2="688.4" y2="410.4" stroke="#1d1d1d" stroke-width="2.67" stroke-linecap="butt"/>
<path d="M628,407.6 L517.5,407.6 Q511.8,407.6 511.8,413 L511.8,448.6 Q511.8,455.9 519.5,455.9 L634.6,455.9 Q640,455.9 640,450.5 L640,433.5" fill="none" stroke="#1d1d1d" stroke-width="3.13" stroke-linejoin="round" stroke-linecap="round"/>
<line x1="512.5" y1="431.8" x2="642" y2="431.8" stroke="#1d1d1d" stroke-width="5.57" stroke-linecap="butt"/>
<rect x="524.9" y="389.8" width="32.8" height="17.7" rx="3" fill="#fff" stroke="#1d1d1d" stroke-width="3.25"/>
<line x1="532.8" y1="390" x2="532.8" y2="402.5" stroke="#1d1d1d" stroke-width="3.94" stroke-linecap="butt"/>
<line x1="549.8" y1="390" x2="549.8" y2="402.5" stroke="#1d1d1d" stroke-width="3.94" stroke-linecap="butt"/>
<path d="M536,402.5 L536,397.5 Q536,393.2 541.3,393.2 Q546.6,393.2 546.6,397.5 L546.6,402.5" fill="none" stroke="#1d1d1d" stroke-width="3.02" stroke-linejoin="round" stroke-linecap="round"/>
<line x1="541.3" y1="397" x2="541.3" y2="403" stroke="#1d1d1d" stroke-width="2.78" stroke-linecap="butt"/>
<rect x="525.4" y="402.6" width="31.8" height="4.6" rx="0" fill="#1d1d1d" stroke="#1d1d1d" stroke-width="0.58"/>
<line x1="527.4" y1="404.6" x2="555.4" y2="404.6" stroke="#aaa" stroke-width="1.28" stroke-linecap="butt" stroke-dasharray="9 2"/>
<line x1="541.3" y1="384.5" x2="541.3" y2="390" stroke="#1d1d1d" stroke-width="2.32" stroke-linecap="butt"/>
<rect x="593.8" y="389.8" width="32.8" height="17.7" rx="3" fill="#fff" stroke="#1d1d1d" stroke-width="3.25"/>
<line x1="601.7" y1="390" x2="601.7" y2="402.5" stroke="#1d1d1d" stroke-width="3.94" stroke-linecap="butt"/>
<line x1="618.7" y1="390" x2="618.7" y2="402.5" stroke="#1d1d1d" stroke-width="3.94" stroke-linecap="butt"/>
<path d="M604.9,402.5 L604.9,397.5 Q604.9,393.2 610.2,393.2 Q615.5,393.2 615.5,397.5 L615.5,402.5" fill="none" stroke="#1d1d1d" stroke-width="3.02" stroke-linejoin="round" stroke-linecap="round"/>
<line x1="610.2" y1="397" x2="610.2" y2="403" stroke="#1d1d1d" stroke-width="2.78" stroke-linecap="butt"/>
<rect x="594.3" y="402.6" width="31.8" height="4.6" rx="0" fill="#1d1d1d" stroke="#1d1d1d" stroke-width="0.58"/>
<line x1="596.3" y1="404.6" x2="624.3" y2="404.6" stroke="#aaa" stroke-width="1.28" stroke-linecap="butt" stroke-dasharray="9 2"/>
<line x1="610.2" y1="384.5" x2="610.2" y2="390" stroke="#1d1d1d" stroke-width="2.32" stroke-linecap="butt"/>
<line x1="541.3" y1="408" x2="541.3" y2="431" stroke="#1d1d1d" stroke-width="2.78" stroke-linecap="butt"/>
<line x1="541.3" y1="438.5" x2="541.3" y2="477.5" stroke="#1d1d1d" stroke-width="2.67" stroke-linecap="butt" stroke-dasharray="4 4.5 30"/>
<line x1="610.2" y1="408" x2="610.2" y2="431" stroke="#1d1d1d" stroke-width="2.78" stroke-linecap="butt"/>
<line x1="610.2" y1="438.5" x2="610.2" y2="477.5" stroke="#1d1d1d" stroke-width="2.67" stroke-linecap="butt" stroke-dasharray="4 4.5 30"/>
<path d="M521.8,457 L521.8,464.8 Q521.8,469 526,469 L566,469 Q570.2,469 571.2,473" fill="none" stroke="#1d1d1d" stroke-width="2.9" stroke-linejoin="round" stroke-linecap="round"/>
<path d="M526,456.8 L566.5,456.8 Q571.4,457 571.4,462 L571.4,538" fill="none" stroke="#1d1d1d" stroke-width="2.9" stroke-linejoin="round" stroke-linecap="round"/>
<path d="M629.2,457 L629.2,464.8 Q629.2,469 625,469 L586.5,469 Q582.4,469 581.8,473" fill="none" stroke="#1d1d1d" stroke-width="2.9" stroke-linejoin="round" stroke-linecap="round"/>
<path d="M624,456.8 L587,456.8 Q581.8,457 581.8,462 L581.8,508 Q581.8,520.8 594,520.8 L604,520.8 Q614.4,520.8 614.4,532 L614.4,739" fill="none" stroke="#1d1d1d" stroke-width="3.02" stroke-linejoin="round" stroke-linecap="round"/>
<path d="M598.6,521.6 Q605.7,522.4 605.7,530.5 L605.7,739" fill="none" stroke="#1d1d1d" stroke-width="2.67" stroke-linejoin="round" stroke-linecap="round"/>
<line x1="522.6" y1="468.6" x2="573.2" y2="538.4" stroke="#1d1d1d" stroke-width="2.78" stroke-linecap="butt"/>
<path d="M638.6,456.6 Q632,492 628.4,522 Q624,556 618,622 L615.4,642" fill="none" stroke="#1d1d1d" stroke-width="2.78" stroke-linejoin="round" stroke-linecap="round"/>
<line x1="580" y1="739" x2="615.6" y2="739" stroke="#1d1d1d" stroke-width="3.25" stroke-linecap="butt"/>
<clipPath id="cab"><rect x="564" y="540" width="14.6" height="200"/></clipPath>
<g clip-path="url(#cab)">
<rect x="563" y="538" width="17" height="204" rx="0" fill="#262626" stroke="#1d1d1d" stroke-width="0"/>
<line x1="559.4" y1="538" x2="513.4" y2="748" stroke="#f4f4f4" stroke-width="3.13" stroke-linecap="butt"/>
<line x1="566" y1="538" x2="520" y2="748" stroke="#f4f4f4" stroke-width="3.13" stroke-linecap="butt"/>
<line x1="572.6" y1="538" x2="526.6" y2="748" stroke="#f4f4f4" stroke-width="3.13" stroke-linecap="butt"/>
<line x1="579.2" y1="538" x2="533.2" y2="748" stroke="#f4f4f4" stroke-width="3.13" stroke-linecap="butt"/>
<line x1="585.8" y1="538" x2="539.8" y2="748" stroke="#f4f4f4" stroke-width="3.13" stroke-linecap="butt"/>
<line x1="592.4" y1="538" x2="546.4" y2="748" stroke="#f4f4f4" stroke-width="3.13" stroke-linecap="butt"/>
<line x1="599" y1="538" x2="553" y2="748" stroke="#f4f4f4" stroke-width="3.13" stroke-linecap="butt"/>
<line x1="605.6" y1="538" x2="559.6" y2="748" stroke="#f4f4f4" stroke-width="3.13" stroke-linecap="butt"/>
<line x1="612.2" y1="538" x2="566.2" y2="748" stroke="#f4f4f4" stroke-width="3.13" stroke-linecap="butt"/>
<line x1="618.8" y1="538" x2="572.8" y2="748" stroke="#f4f4f4" stroke-width="3.13" stroke-linecap="butt"/>
<line x1="625.4" y1="538" x2="579.4" y2="748" stroke="#f4f4f4" stroke-width="3.13" stroke-linecap="butt"/>
<line x1="632" y1="538" x2="586" y2="748" stroke="#f4f4f4" stroke-width="3.13" stroke-linecap="butt"/>
<line x1="563" y1="551" x2="580" y2="545" stroke="#262626" stroke-width="2.55" stroke-linecap="butt"/>
<line x1="563" y1="584" x2="580" y2="578" stroke="#262626" stroke-width="2.55" stroke-linecap="butt"/>
<line x1="563" y1="617" x2="580" y2="611" stroke="#262626" stroke-width="2.55" stroke-linecap="butt"/>
<line x1="563" y1="650" x2="580" y2="644" stroke="#262626" stroke-width="2.55" stroke-linecap="butt"/>
<line x1="563" y1="683" x2="580" y2="677" stroke="#262626" stroke-width="2.55" stroke-linecap="butt"/>
<line x1="563" y1="716" x2="580" y2="710" stroke="#262626" stroke-width="2.55" stroke-linecap="butt"/>
</g>
<line x1="563.6" y1="545" x2="563.6" y2="740" stroke="#1d1d1d" stroke-width="2.78" stroke-linecap="butt"/>
<line x1="578.9" y1="542" x2="578.9" y2="740" stroke="#1d1d1d" stroke-width="3.02" stroke-linecap="butt"/>
<path d="M571.6,537 L576.4,538 Q578.8,539.4 578.8,543" fill="none" stroke="#1d1d1d" stroke-width="3.02" stroke-linejoin="round" stroke-linecap="round"/>
<rect x="555" y="543.5" width="22.6" height="7.8" rx="1.5" fill="#fff" stroke="#1d1d1d" stroke-width="2.78"/>
<rect x="558" y="545.7" width="3.6" height="3.6" rx="0.5" fill="#777" stroke="#1d1d1d" stroke-width="1.16"/>
<rect x="565" y="545.7" width="3.6" height="3.6" rx="0.5" fill="#777" stroke="#1d1d1d" stroke-width="1.16"/>
<path d="M533,564.3 L538.6,551.3 L563.4,551.3 L563.4,564.3 Z" fill="#fff" stroke="#1d1d1d" stroke-width="2.9" stroke-linejoin="round" stroke-linecap="round"/>
<path d="M533,594.3 L538.6,607.3 L563.4,607.3 L563.4,594.3 Z" fill="#fff" stroke="#1d1d1d" stroke-width="2.9" stroke-linejoin="round" stroke-linecap="round"/>
<path d="M533,563.9 L528,564.7 Q524.4,566.3 524.8,571.3" fill="none" stroke="#1d1d1d" stroke-width="2.9" stroke-linejoin="round" stroke-linecap="round"/>
<path d="M533,594.7 L528,593.9 Q524.4,592.3 524.8,587.3" fill="none" stroke="#1d1d1d" stroke-width="2.9" stroke-linejoin="round" stroke-linecap="round"/>
<rect x="531.6" y="565.1" width="32" height="4.8" rx="0" fill="#6e6e6e" stroke="#6e6e6e" stroke-width="0.46"/>
<rect x="531.6" y="588.7" width="32" height="4.8" rx="0" fill="#6e6e6e" stroke="#6e6e6e" stroke-width="0.46"/>
<rect x="523.6" y="570.9" width="62.4" height="16.8" rx="8.4" fill="#fff" stroke="#1d1d1d" stroke-width="2.78"/>
<path d="M531,571.5 A7.8,7.8 0 0 0 531,587.1" fill="none" stroke="#1d1d1d" stroke-width="3.94" stroke-linejoin="round" stroke-linecap="butt"/>
<path d="M579,560.1 A15.4,19.2 0 0 1 579,598.5" fill="none" stroke="#1d1d1d" stroke-width="3.6" stroke-linejoin="round" stroke-linecap="round"/>
<path d="M581,564.7 A8.6,14.6 0 0 1 581,593.9" fill="none" stroke="#1d1d1d" stroke-width="2.55" stroke-linejoin="round" stroke-linecap="round"/>
<line x1="584" y1="559.7" x2="605" y2="559.7" stroke="#1d1d1d" stroke-width="2.78" stroke-linecap="butt"/>
<line x1="583" y1="598.5" x2="605" y2="598.5" stroke="#1d1d1d" stroke-width="2.78" stroke-linecap="butt"/>
<path d="M607.6,561.1 L611.2,561.1 Q613.8,579.3 611.2,596.7 L607.6,596.7 Z" fill="#333" stroke="#333" stroke-width="1.16" stroke-linejoin="round" stroke-linecap="round"/>
<path d="M616,560.9 L625.6,560.9 Q628.2,561.7 628.2,564.7 L628.2,593.9 Q628.2,596.9 625.6,597.6 L616,597.6 Z" fill="#fff" stroke="#1d1d1d" stroke-width="3.02" stroke-linejoin="round" stroke-linecap="round"/>
<line x1="615.4" y1="570.1" x2="628" y2="570.1" stroke="#1d1d1d" stroke-width="3.71" stroke-linecap="butt"/>
<line x1="615.4" y1="588.5" x2="628" y2="588.5" stroke="#1d1d1d" stroke-width="3.71" stroke-linecap="butt"/>
<rect x="629" y="569.5" width="9.2" height="19.8" rx="2.2" fill="#fff" stroke="#1d1d1d" stroke-width="3.25"/>
<line x1="526" y1="579.3" x2="588" y2="579.3" stroke="#1d1d1d" stroke-width="2.78" stroke-linecap="butt" stroke-dasharray="21 5 4 5"/>
<line x1="598" y1="579.3" x2="634" y2="579.3" stroke="#1d1d1d" stroke-width="2.55" stroke-linecap="butt" stroke-dasharray="9 4"/>
<line x1="572.6" y1="573.3" x2="572.6" y2="585.3" stroke="#1d1d1d" stroke-width="2.09" stroke-linecap="butt"/>
<rect x="555.4" y="607.4" width="8" height="9.4" rx="1" fill="#fff" stroke="#1d1d1d" stroke-width="2.78"/>
<path d="M533,630 L538.6,617 L563.4,617 L563.4,630 Z" fill="#fff" stroke="#1d1d1d" stroke-width="2.9" stroke-linejoin="round" stroke-linecap="round"/>
<path d="M533,660 L538.6,673 L563.4,673 L563.4,660 Z" fill="#fff" stroke="#1d1d1d" stroke-width="2.9" stroke-linejoin="round" stroke-linecap="round"/>
<path d="M533,629.6 L528,630.4 Q524.4,632 524.8,637" fill="none" stroke="#1d1d1d" stroke-width="2.9" stroke-linejoin="round" stroke-linecap="round"/>
<path d="M533,660.4 L528,659.6 Q524.4,658 524.8,653" fill="none" stroke="#1d1d1d" stroke-width="2.9" stroke-linejoin="round" stroke-linecap="round"/>
<rect x="531.6" y="630.8" width="32" height="4.8" rx="0" fill="#6e6e6e" stroke="#6e6e6e" stroke-width="0.46"/>
<rect x="531.6" y="654.4" width="32" height="4.8" rx="0" fill="#6e6e6e" stroke="#6e6e6e" stroke-width="0.46"/>
<rect x="523.6" y="636.6" width="62.4" height="16.8" rx="8.4" fill="#fff" stroke="#1d1d1d" stroke-width="2.78"/>
<path d="M531,637.2 A7.8,7.8 0 0 0 531,652.8" fill="none" stroke="#1d1d1d" stroke-width="3.94" stroke-linejoin="round" stroke-linecap="butt"/>
<path d="M579,625.8 A15.4,19.2 0 0 1 579,664.2" fill="none" stroke="#1d1d1d" stroke-width="3.6" stroke-linejoin="round" stroke-linecap="round"/>
<path d="M581,630.4 A8.6,14.6 0 0 1 581,659.6" fill="none" stroke="#1d1d1d" stroke-width="2.55" stroke-linejoin="round" stroke-linecap="round"/>
<line x1="584" y1="625.4" x2="605" y2="625.4" stroke="#1d1d1d" stroke-width="2.78" stroke-linecap="butt"/>
<line x1="583" y1="664.2" x2="605" y2="664.2" stroke="#1d1d1d" stroke-width="2.78" stroke-linecap="butt"/>
<path d="M607.6,626.8 L611.2,626.8 Q613.8,645 611.2,662.4 L607.6,662.4 Z" fill="#333" stroke="#333" stroke-width="1.16" stroke-linejoin="round" stroke-linecap="round"/>
<path d="M616,626.6 L625.6,626.6 Q628.2,627.4 628.2,630.4 L628.2,659.6 Q628.2,662.6 625.6,663.3 L616,663.3 Z" fill="#fff" stroke="#1d1d1d" stroke-width="3.02" stroke-linejoin="round" stroke-linecap="round"/>
<line x1="615.4" y1="635.8" x2="628" y2="635.8" stroke="#1d1d1d" stroke-width="3.71" stroke-linecap="butt"/>
<line x1="615.4" y1="654.2" x2="628" y2="654.2" stroke="#1d1d1d" stroke-width="3.71" stroke-linecap="butt"/>
<rect x="629" y="635.2" width="9.2" height="19.8" rx="2.2" fill="#fff" stroke="#1d1d1d" stroke-width="3.25"/>
<line x1="526" y1="645" x2="588" y2="645" stroke="#1d1d1d" stroke-width="2.78" stroke-linecap="butt" stroke-dasharray="21 5 4 5"/>
<line x1="598" y1="645" x2="634" y2="645" stroke="#1d1d1d" stroke-width="2.55" stroke-linecap="butt" stroke-dasharray="9 4"/>
<line x1="572.6" y1="639" x2="572.6" y2="651" stroke="#1d1d1d" stroke-width="2.09" stroke-linecap="butt"/>
<rect x="555.4" y="673.1" width="8" height="9.4" rx="1" fill="#fff" stroke="#1d1d1d" stroke-width="2.78"/>
<path d="M533,695.7 L538.6,682.7 L563.4,682.7 L563.4,695.7 Z" fill="#fff" stroke="#1d1d1d" stroke-width="2.9" stroke-linejoin="round" stroke-linecap="round"/>
<path d="M533,725.7 L538.6,738.7 L563.4,738.7 L563.4,725.7 Z" fill="#fff" stroke="#1d1d1d" stroke-width="2.9" stroke-linejoin="round" stroke-linecap="round"/>
<path d="M533,695.3 L528,696.1 Q524.4,697.7 524.8,702.7" fill="none" stroke="#1d1d1d" stroke-width="2.9" stroke-linejoin="round" stroke-linecap="round"/>
<path d="M533,726.1 L528,725.3 Q524.4,723.7 524.8,718.7" fill="none" stroke="#1d1d1d" stroke-width="2.9" stroke-linejoin="round" stroke-linecap="round"/>
<rect x="531.6" y="696.5" width="32" height="4.8" rx="0" fill="#6e6e6e" stroke="#6e6e6e" stroke-width="0.46"/>
<rect x="531.6" y="720.1" width="32" height="4.8" rx="0" fill="#6e6e6e" stroke="#6e6e6e" stroke-width="0.46"/>
<rect x="523.6" y="702.3" width="62.4" height="16.8" rx="8.4" fill="#fff" stroke="#1d1d1d" stroke-width="2.78"/>
<path d="M531,702.9 A7.8,7.8 0 0 0 531,718.5" fill="none" stroke="#1d1d1d" stroke-width="3.94" stroke-linejoin="round" stroke-linecap="butt"/>
<path d="M579,691.5 A15.4,19.2 0 0 1 579,729.9" fill="none" stroke="#1d1d1d" stroke-width="3.6" stroke-linejoin="round" stroke-linecap="round"/>
<path d="M581,696.1 A8.6,14.6 0 0 1 581,725.3" fill="none" stroke="#1d1d1d" stroke-width="2.55" stroke-linejoin="round" stroke-linecap="round"/>
<line x1="584" y1="691.1" x2="605" y2="691.1" stroke="#1d1d1d" stroke-width="2.78" stroke-linecap="butt"/>
<line x1="583" y1="729.9" x2="605" y2="729.9" stroke="#1d1d1d" stroke-width="2.78" stroke-linecap="butt"/>
<path d="M607.6,692.5 L611.2,692.5 Q613.8,710.7 611.2,728.1 L607.6,728.1 Z" fill="#333" stroke="#333" stroke-width="1.16" stroke-linejoin="round" stroke-linecap="round"/>
<path d="M616,692.3 L625.6,692.3 Q628.2,693.1 628.2,696.1 L628.2,725.3 Q628.2,728.3 625.6,729 L616,729 Z" fill="#fff" stroke="#1d1d1d" stroke-width="3.02" stroke-linejoin="round" stroke-linecap="round"/>
<line x1="615.4" y1="701.5" x2="628" y2="701.5" stroke="#1d1d1d" stroke-width="3.71" stroke-linecap="butt"/>
<line x1="615.4" y1="719.9" x2="628" y2="719.9" stroke="#1d1d1d" stroke-width="3.71" stroke-linecap="butt"/>
<rect x="629" y="700.9" width="9.2" height="19.8" rx="2.2" fill="#fff" stroke="#1d1d1d" stroke-width="3.25"/>
<line x1="526" y1="710.7" x2="588" y2="710.7" stroke="#1d1d1d" stroke-width="2.78" stroke-linecap="butt" stroke-dasharray="21 5 4 5"/>
<line x1="598" y1="710.7" x2="634" y2="710.7" stroke="#1d1d1d" stroke-width="2.55" stroke-linecap="butt" stroke-dasharray="9 4"/>
<line x1="572.6" y1="704.7" x2="572.6" y2="716.7" stroke="#1d1d1d" stroke-width="2.09" stroke-linecap="butt"/>
<path d="M554.6,740 L554.6,752 Q554.6,760 562,760 L568,760 Q571.8,760 572.4,756 L573.4,756 Q574.4,760.4 579,760.4 L585,760.4 Q591,760.4 591,753 L591,740 Z" fill="#1d1d1d" stroke="#1d1d1d" stroke-width="1.86" stroke-linejoin="round" stroke-linecap="round"/>
<line x1="561.2" y1="742" x2="557.6" y2="755.4" stroke="#f2f2f2" stroke-width="3.48" stroke-linecap="butt"/>
<line x1="566.8" y1="742" x2="563.2" y2="755.4" stroke="#f2f2f2" stroke-width="3.48" stroke-linecap="butt"/>
<line x1="569.4" y1="746" x2="567.4" y2="755" stroke="#e0e0e0" stroke-width="1.86" stroke-linecap="butt"/>
<rect x="579.6" y="744" width="7" height="11" rx="1.5" fill="#777" stroke="#555" stroke-width="0.7"/>
<line x1="581" y1="747" x2="585.6" y2="747" stroke="#2a2a2a" stroke-width="1.62" stroke-linecap="butt" stroke-dasharray="1.4 1.6"/>
<line x1="581" y1="751.6" x2="585.6" y2="751.6" stroke="#2a2a2a" stroke-width="1.62" stroke-linecap="butt" stroke-dasharray="1.4 1.6"/>
<line x1="572.6" y1="745" x2="572.6" y2="764" stroke="#1d1d1d" stroke-width="2.55" stroke-linecap="butt"/>
<text transform="translate(482.87 276.4) scale(0.8275 1)" font-size="32" fill="#3a3a3a" stroke="#3a3a3a" stroke-width="0.45" stroke-linejoin="round">B</text>
<text transform="translate(498.96 276.4) scale(0.7173 1)" font-size="32" fill="#3a3a3a" stroke="#3a3a3a" stroke-width="0.45" stroke-linejoin="round">R</text>
<text transform="translate(515.13 276.4) scale(0.6685 1)" font-size="32" fill="#3a3a3a" stroke="#3a3a3a" stroke-width="0.45" stroke-linejoin="round">O</text>
<text transform="translate(537.34 276.4) scale(0.8744 1)" font-size="32" fill="#3a3a3a" stroke="#3a3a3a" stroke-width="0.45" stroke-linejoin="round">N</text>
<text transform="translate(561.9 276.4) scale(0.7185 1)" font-size="32" fill="#3a3a3a" stroke="#3a3a3a" stroke-width="0.45" stroke-linejoin="round">C</text>
<text transform="translate(582.43 276.4) scale(0.7258 1)" font-size="32" fill="#3a3a3a" stroke="#3a3a3a" stroke-width="0.45" stroke-linejoin="round">E</text>
<text transform="translate(697.49 537.3) scale(0.8808 1)" font-size="31.13" fill="#3a3a3a" stroke="#3a3a3a" stroke-width="0.45" stroke-linejoin="round">P</text>
<text transform="translate(714.31 537.3) scale(0.5987 1)" font-size="31.13" fill="#3a3a3a" stroke="#3a3a3a" stroke-width="0.45" stroke-linejoin="round">L</text>
<text transform="translate(723.3 537.3) scale(0.6934 1)" font-size="31.13" fill="#3a3a3a" stroke="#3a3a3a" stroke-width="0.45" stroke-linejoin="round">A</text>
<text transform="translate(740.84 537.3) scale(0.7791 1)" font-size="31.13" fill="#3a3a3a" stroke="#3a3a3a" stroke-width="0.45" stroke-linejoin="round">C</text>
<text transform="translate(761.29 537.3) scale(0.7274 1)" font-size="31.13" fill="#3a3a3a" stroke="#3a3a3a" stroke-width="0.45" stroke-linejoin="round">A</text>
<text transform="translate(788.71 537.3) scale(0.8326 1)" font-size="31.13" fill="#3a3a3a" stroke="#3a3a3a" stroke-width="0.45" stroke-linejoin="round">B</text>
<text transform="translate(804.45 537.3) scale(0.7294 1)" font-size="31.13" fill="#3a3a3a" stroke="#3a3a3a" stroke-width="0.45" stroke-linejoin="round">I</text>
<text transform="translate(808.96 537.3) scale(0.9289 1)" font-size="31.13" fill="#3a3a3a" stroke="#3a3a3a" stroke-width="0.45" stroke-linejoin="round">M</text>
<text transform="translate(835.57 537.3) scale(0.6929 1)" font-size="31.13" fill="#3a3a3a" stroke="#3a3a3a" stroke-width="0.45" stroke-linejoin="round">E</text>
<text transform="translate(848.82 537.3) scale(0.7562 1)" font-size="31.13" fill="#3a3a3a" stroke="#3a3a3a" stroke-width="0.45" stroke-linejoin="round">T</text>
<text transform="translate(862.3 537.3) scale(0.6934 1)" font-size="31.13" fill="#3a3a3a" stroke="#3a3a3a" stroke-width="0.45" stroke-linejoin="round">A</text>
<text transform="translate(879.5 537.3) scale(0.5257 1)" font-size="31.13" fill="#3a3a3a" stroke="#3a3a3a" stroke-width="0.45" stroke-linejoin="round">L</text>
<text transform="translate(887.95 537.3) scale(0.7294 1)" font-size="31.13" fill="#3a3a3a" stroke="#3a3a3a" stroke-width="0.45" stroke-linejoin="round">I</text>
<text transform="translate(893.11 537.3) scale(0.7994 1)" font-size="31.13" fill="#3a3a3a" stroke="#3a3a3a" stroke-width="0.45" stroke-linejoin="round">C</text>
<text transform="translate(913.29 537.3) scale(0.7225 1)" font-size="31.13" fill="#3a3a3a" stroke="#3a3a3a" stroke-width="0.45" stroke-linejoin="round">A</text>
<text transform="translate(660.89 674) scale(0.7173 1)" font-size="31.56" fill="#3a3a3a" stroke="#3a3a3a" stroke-width="0.45" stroke-linejoin="round">A</text>
<text transform="translate(680.77 674) scale(0.7200 1)" font-size="31.56" fill="#3a3a3a" stroke="#3a3a3a" stroke-width="0.45" stroke-linejoin="round">L</text>
<text transform="translate(690.61 674) scale(0.8765 1)" font-size="31.56" fill="#3a3a3a" stroke="#3a3a3a" stroke-width="0.45" stroke-linejoin="round">U</text>
<text transform="translate(709.03 674) scale(0.8923 1)" font-size="31.56" fill="#3a3a3a" stroke="#3a3a3a" stroke-width="0.45" stroke-linejoin="round">M</text>
<text transform="translate(733.25 674) scale(0.7193 1)" font-size="31.56" fill="#3a3a3a" stroke="#3a3a3a" stroke-width="0.45" stroke-linejoin="round">I</text>
<text transform="translate(738.57 674) scale(1.0684 1)" font-size="31.56" fill="#3a3a3a" stroke="#3a3a3a" stroke-width="0.45" stroke-linejoin="round">N</text>
<text transform="translate(763.85 674) scale(0.7193 1)" font-size="31.56" fill="#3a3a3a" stroke="#3a3a3a" stroke-width="0.45" stroke-linejoin="round">I</text>
<text transform="translate(769.22 674) scale(0.7567 1)" font-size="31.56" fill="#3a3a3a" stroke="#3a3a3a" stroke-width="0.45" stroke-linejoin="round">O</text>
<text transform="translate(154.99 814.7) scale(0.7042 1)" font-size="32.58" fill="#3a3a3a" stroke="#3a3a3a" stroke-width="0.45" stroke-linejoin="round">A</text>
<text transform="translate(174.23 814.7) scale(0.8725 1)" font-size="32.58" fill="#3a3a3a" stroke="#3a3a3a" stroke-width="0.45" stroke-linejoin="round">m</text>
<text transform="translate(194.52 814.7) scale(0.9251 1)" font-size="32.58" fill="#3a3a3a" stroke="#3a3a3a" stroke-width="0.45" stroke-linejoin="round">m</text>
<text transform="translate(217.92 814.7) scale(0.8769 1)" font-size="32.58" fill="#3a3a3a" stroke="#3a3a3a" stroke-width="0.45" stroke-linejoin="round">2</text>
<text transform="translate(735.02 190.5) scale(0.7991 1)" font-size="30.84" fill="#3a3a3a" stroke="#3a3a3a" stroke-width="0.45" stroke-linejoin="round">D</text>
<text transform="translate(492.35 883) scale(0.7475 1)" font-size="46.69" font-weight="bold" fill="#1f1f1f" stroke="#1f1f1f" stroke-width="1.6" stroke-linejoin="round">X</text>
<text transform="translate(520.16 883) scale(0.7439 1)" font-size="46.69" font-weight="bold" fill="#1f1f1f" stroke="#1f1f1f" stroke-width="1.6" stroke-linejoin="round">L</text>
<text transform="translate(539.69 883) scale(0.7654 1)" font-size="46.69" font-weight="bold" fill="#1f1f1f" stroke="#1f1f1f" stroke-width="1.6" stroke-linejoin="round">B</text>
<text transform="translate(564.07 883) scale(0.7651 1)" font-size="46.69" font-weight="bold" fill="#1f1f1f" stroke="#1f1f1f" stroke-width="1.6" stroke-linejoin="round">C</text>
<text transform="translate(119.1 549.1) rotate(-90) translate(-2.01 0) scale(0.8449 1)" font-size="28.8" fill="#3a3a3a" stroke="#3a3a3a" stroke-width="0.45">E</text>
<text transform="translate(441.7 658.7) rotate(-90) translate(-1.31 0) scale(0.9264 1)" font-size="28.22" fill="#3a3a3a" stroke="#3a3a3a" stroke-width="0.45">C</text>
<text transform="translate(867.3 245.2) rotate(-90) translate(-2.48 0) scale(0.9931 1)" font-size="30.25" fill="#3a3a3a" stroke="#3a3a3a" stroke-width="0.45">B</text>
<text transform="translate(867.3 227.6) rotate(-90) translate(-1.16 0) scale(0.8039 1)" font-size="30.25" fill="#3a3a3a" stroke="#3a3a3a" stroke-width="0.45">O</text>
<line x1="846.4" y1="212" x2="867.4" y2="227.8" stroke="#3a3a3a" stroke-width="2.09" stroke-linecap="butt"/>
</svg>
</body></html>
